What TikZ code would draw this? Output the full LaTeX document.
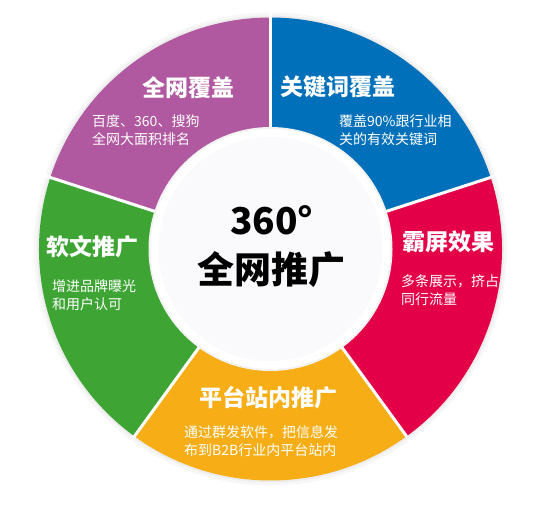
\documentclass[tikz,border=0pt]{standalone}
\usepackage{fontspec}
\setmainfont{Noto Sans CJK SC}
\usepackage{tikz}
\usetikzlibrary{calc}
\definecolor{segpurple}{RGB}{176,88,160}
\definecolor{segblue}{RGB}{0,112,186}
\definecolor{segred}{RGB}{228,0,72}
\definecolor{seggreen}{RGB}{62,165,53}
\definecolor{segyellow}{RGB}{247,174,22}
\definecolor{discfill}{RGB}{250,249,252}
\tikzset{
  title/.style = {
    text = white,
    font = \fontsize{23}{27}\selectfont\bfseries,
    inner sep = 0pt
  },
  note/.style = {
    text = white,
    anchor = west,
    align = left,
    inner sep = 0pt,
    font = \fontsize{14}{18}\selectfont
  },
  centre/.style = {
    text = black,
    inner sep = 0pt,
    font = \fontsize{37}{40}\selectfont\bfseries
  }
}

\begin{document}
\begin{tikzpicture}[x=1pt,y=1pt]
  \useasboundingbox[fill=white] (0,0) rectangle (541,507);
  \coordinate (O) at (270.5,258);
  \def\R{231.5}
  \def\r{121}
  % soft shadow round the ring
  \fill[gray!6] (O) circle (\R+5);
  \fill[gray!14] (O) circle (\R+2);
  % the five sectors
  \foreach \a/\b/\c in {90/162/segpurple, 18/90/segblue, -54/18/segred,
                        -126/-54/segyellow, 162/234/seggreen}{
    \fill[\c] ($(O)+(\a:\R)$) arc[start angle=\a, end angle=\b, radius=\R]
      -- ($(O)+(\b:\r)$) arc[start angle=\b, end angle=\a, radius=\r] -- cycle;
  }
  % white gaps
  \foreach \a in {90,18,-54,-126,162}
    \draw[white, line width=3pt] ($(O)+(\a:\r-4)$) -- ($(O)+(\a:\R+6)$);
  % inner disc
  \fill[gray!10] (O) circle (\r+1);
  \fill[white] (O) circle (\r-1);
  \fill[discfill] (O) circle (\r-9);

  % labels
  \node[title] (t1) at (188,419) {全网覆盖};
  \node[note]  (s1) at (92,377) {百度、360、搜狗\\全网大面积排名};
  \node[title] (t2) at (338,420) {关键词覆盖};
  \node[note]  (s2) at (339,377) {覆盖90\%跟行业相\\关的有效关键词};
  \node[title] (t3) at (448,265) {霸屏效果};
  \node[note]  (s3) at (401,216.5) {多条展示，挤占\\同行流量};
  \node[title] (t4) at (92,260) {软文推广};
  \node[note]  (s4) at (52,212) {增进品牌曝光\\和用户认可};
  \node[title] (t5) at (268,109) {平台站内推广};
  \node[note]  (s5) at (184,65.5) {通过群发软件，把信息发\\布到B2B行业内平台站内};
  % centre text
  \node[centre] (c1) at (272,287) {360°};
  \node[centre] (c2) at (271,237) {全网推广};
\end{tikzpicture}
\end{document}
